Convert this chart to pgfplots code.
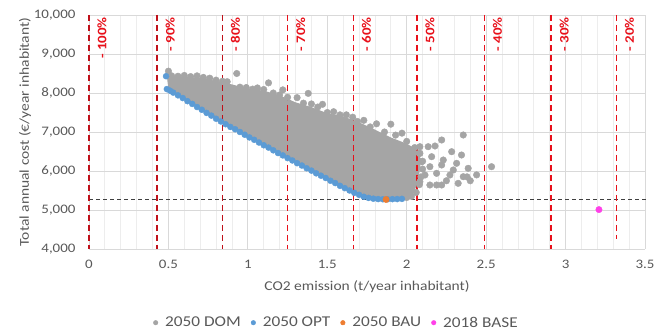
\documentclass[border=0pt]{standalone}
\usepackage{fontspec}
\setmainfont{Carlito}[FakeStretch=1.15]
\usepackage{pgfplots}
\pgfplotsset{compat=1.18}
\definecolor{dom}{HTML}{A5A5A5}
\definecolor{opt}{HTML}{5B9BD5}
\definecolor{bau}{HTML}{ED7D31}
\definecolor{base}{HTML}{FF40E8}
\definecolor{txt}{HTML}{595959}
\definecolor{grd}{HTML}{D9D9D9}
\definecolor{mgrd}{HTML}{EDEDED}
\definecolor{redl}{HTML}{E8101A}
\definecolor{redd}{HTML}{C0101A}
\newcommand{\fs}{\fontsize{13.5}{16}\selectfont}
\begin{document}
\begin{tikzpicture}
\begin{axis}[
  name=ax,
  scale only axis, width=556pt, height=234pt,
  xmin=0, xmax=3.5, ymin=4000, ymax=10000,
  xtick={0,0.5,1,1.5,2,2.5,3,3.5},
  ytick={4000,5000,6000,7000,8000,9000,10000},
  scaled y ticks=false, scaled x ticks=false,
  minor x tick num=4,
  grid=both,
  major grid style={grd, line width=0.8pt},
  minor grid style={mgrd, line width=0.8pt},
  axis line style={draw=none},
  major tick length=0pt, minor tick length=0pt,
  tick label style={font=\fontsize{13}{15}\selectfont, text=txt},
  /pgf/number format/assume math mode=true,
  /pgf/number format/1000 sep={,},
  yticklabel style={xshift=-10pt},
  xticklabel style={yshift=-8pt},
  xlabel={CO2 emission (t/year inhabitant)},
  ylabel={Total annual cost (€/year inhabitant)},
  xlabel style={at={(axis description cs:0.5,-0.1624)}, anchor=center, font=\fs, text=txt},
  ylabel style={at={(axis description cs:-0.1151,0.5)}, anchor=center, font=\fs, text=txt},
  legend style={at={(axis description cs:0.445,-0.315)}, anchor=center, draw=none, fill=none,
    font=\fontsize{15}{17}\selectfont, text=txt, legend columns=4,
    /tikz/every even column/.append style={column sep=8pt}},
  legend image code/.code={\fill (2.3pt,0pt) circle (2.3pt);},
  clip=false,
]
% DOM dense region
\addplot[forget plot, draw=none, fill=dom] coordinates {
 (0.49,8440) (0.6,8420) (0.7,8390) (0.8,8310) (0.9,8220) (1.0,8110) (1.1,8060)
 (1.2,7940) (1.3,7760) (1.4,7640) (1.5,7480) (1.6,7400) (1.7,7250) (1.8,7060)
 (1.9,6860) (2.0,6700) (2.06,6560) (2.09,6300) (2.08,5950) (2.06,5600) (2.03,5330)
 (1.9,5290) (1.8,5300) (1.7,5400) (1.66,5460) (1.25,6340) (0.84,7260) (0.5,8090)
};
% horizontal BAU cost line
\addplot[forget plot, draw=black!75, line width=1.2pt, dash pattern=on 4pt off 3pt] coordinates {(0,5270) (3.52,5270)};
% DOM dots
\addplot[only marks, mark=*, mark size=3.3pt, color=dom] coordinates {
 (0.50,8560) (0.52,8440) (0.56,8430) (0.60,8450) (0.64,8420) (0.68,8440) (0.72,8400)
 (0.76,8380) (0.80,8330) (0.84,8300) (0.87,8290) (0.93,8500) (0.95,8150) (0.99,8140)
 (1.03,8100) (1.06,8130) (1.10,8090) (1.13,8260) (1.16,8000) (1.22,8080) (1.20,7950)
 (1.25,7890) (1.31,7880) (1.35,7740) (1.38,7990) (1.40,7720) (1.44,7640) (1.47,7710)
 (1.50,7500) (1.54,7520) (1.58,7440) (1.62,7440) (1.66,7380) (1.69,7270) (1.73,7300)
 (1.77,7130) (1.81,7210) (1.86,7000) (1.90,7200) (1.93,6920) (1.97,6970) (2.00,6760)
 (2.05,6600) (2.08,6450) (2.10,6250) (2.10,6050) (2.09,5850) (2.08,5650) (2.06,5450)
 (2.03,5350) (2.00,5320)
 (2.083,6623) (2.135,6623) (2.178,6641) (2.22,6795) (2.356,6923) (2.283,6495)
 (2.345,6410) (2.23,6282) (2.314,6197) (2.387,6069) (2.534,6110) (2.146,6110)
 (2.188,5940) (2.272,5897) (2.324,5684) (2.22,5641) (2.146,5641) (2.083,5726)
 (2.115,5897) (2.094,6239) (2.157,6367) (2.22,6154) (2.293,6026) (2.356,5854)
 (2.083,6453) (2.188,5641) (2.40,5750) (2.44,5900) (2.38,5850) (2.25,5750)
};
\addlegendentry{\hspace{5pt}2050 DOM}
% OPT
\addplot[only marks, mark=*, mark size=3pt, color=opt] coordinates {
 (0.485,8430) (0.49,8100) (0.51,8060) (0.53,8010) (0.56,7940) (0.59,7870) (0.62,7790)
 (0.65,7720) (0.68,7640) (0.71,7570) (0.74,7490) (0.77,7420) (0.80,7340) (0.83,7270)
 (0.86,7200) (0.89,7130) (0.92,7070) (0.95,7000) (0.98,6930) (1.01,6860) (1.04,6800)
 (1.07,6730) (1.10,6660) (1.13,6600) (1.16,6530) (1.19,6460) (1.22,6400) (1.25,6330)
 (1.28,6270) (1.31,6200) (1.34,6140) (1.37,6070) (1.40,6010) (1.43,5940) (1.46,5880)
 (1.49,5820) (1.52,5750) (1.55,5690) (1.58,5620) (1.61,5560) (1.64,5500) (1.67,5440)
 (1.70,5390) (1.73,5340) (1.76,5310) (1.79,5290) (1.82,5280) (1.85,5275) (1.88,5275)
 (1.91,5278) (1.94,5280) (1.97,5285)
};
\addlegendentry{\hspace{5pt}2050 OPT}
\addplot[only marks, mark=*, mark size=3.2pt, color=bau] coordinates {(1.87,5270)};
\addlegendentry{\hspace{5pt}2050 BAU}
\addplot[only marks, mark=*, mark size=3.2pt, color=base] coordinates {(3.21,5010)};
\addlegendentry{\hspace{5pt}2018 BASE}
% reduction lines
\addplot[forget plot, redd, line width=1.7pt, dash pattern=on 6pt off 4pt] coordinates {(0,10000) (0,4000)};
\addplot[forget plot, redd, line width=1.7pt, dash pattern=on 6pt off 4pt] coordinates {(0.43,10000) (0.43,4000)};
\addplot[forget plot, redd, line width=1.7pt, dash pattern=on 6pt off 4pt] coordinates {(0.84,10000) (0.84,4000)};
\addplot[forget plot, redl, line width=1.7pt, dash pattern=on 6pt off 4pt] coordinates {(1.25,10000) (1.25,4000)};
\addplot[forget plot, redl, line width=1.7pt, dash pattern=on 6pt off 4pt] coordinates {(1.665,10000) (1.665,4000)};
\addplot[forget plot, redl, line width=1.7pt, dash pattern=on 6pt off 4pt] coordinates {(2.065,10000) (2.065,4000)};
\addplot[forget plot, redl, line width=1.7pt, dash pattern=on 6pt off 4pt] coordinates {(2.49,10000) (2.49,4000)};
\addplot[forget plot, redl, line width=1.7pt, dash pattern=on 6pt off 4pt] coordinates {(2.91,10000) (2.91,4000)};
\addplot[forget plot, redl, line width=1.7pt, dash pattern=on 6pt off 4pt] coordinates {(3.32,10000) (3.32,4250)};
\foreach \xx/\lab in {0/100,0.43/90,0.84/80,1.25/70,1.665/60,2.065/50,2.49/40,2.91/30,3.32/20}{
  \edef\tmp{\noexpand\node[rotate=90, anchor=east, text=redl, inner sep=0pt,
     font=\noexpand\bfseries\noexpand\fontsize{13}{15}\noexpand\selectfont]
     at ([xshift=13pt,yshift=-2pt]axis cs:\xx,10000) {- \lab\noexpand\%};}
  \tmp
}
\end{axis}
\pgfresetboundingbox
\useasboundingbox ([xshift=-89pt,yshift=-82pt]ax.south west) rectangle ([xshift=10pt,yshift=15pt]ax.north east);
\end{tikzpicture}
\end{document}
